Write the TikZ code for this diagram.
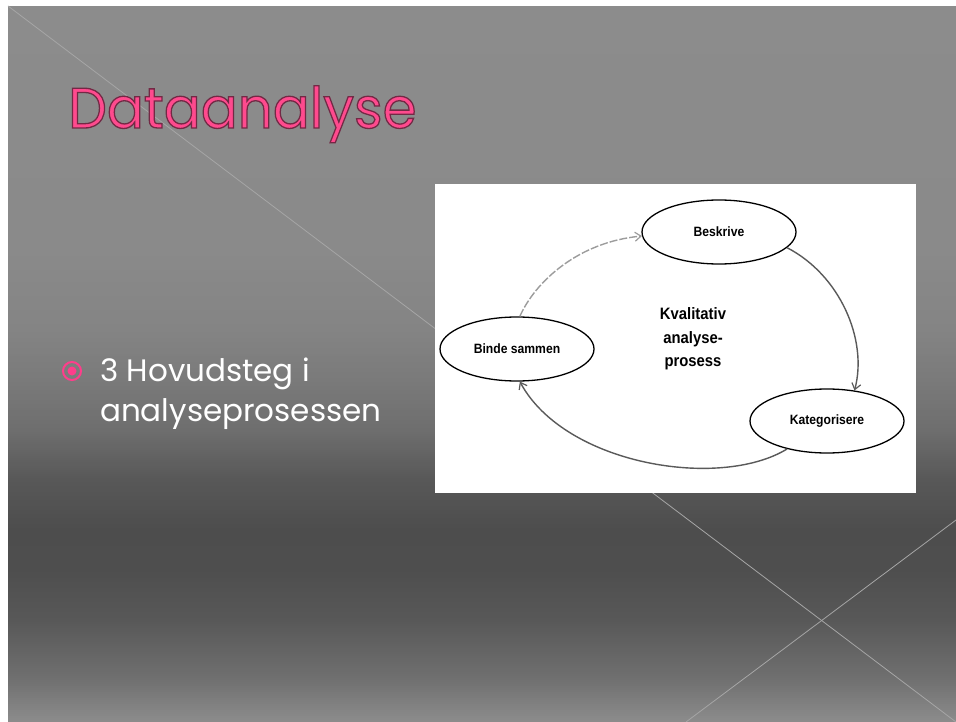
\documentclass[tikz,border=0pt]{standalone}
\usepackage{fontspec}
\setmainfont{Poppins}
\newfontfamily\diagfont{Liberation Sans}[FakeStretch=0.9]
\usetikzlibrary{shapes.geometric,arrows.meta}

\definecolor{titlepink}{HTML}{FF4A8E}
\definecolor{bulletpink}{HTML}{FF3D8B}
\definecolor{streak}{HTML}{A6A6A6}
\definecolor{flow}{HTML}{5A5A5A}
\definecolor{flowlight}{HTML}{9C9C9C}

% fill the glyphs and stroke their outlines in a dark rose
\newcommand{\outlinedtext}[1]{%
  \special{pdf:code 2 Tr 1.3 w 0.45 0.16 0.27 RG}#1\special{pdf:code 0 Tr 0.4 w}}

\begin{document}
\begin{tikzpicture}[x=1pt,y=-1pt,
  stage/.style={ellipse,draw=black,line width=1.3pt,fill=white,
    minimum width=154pt,minimum height=64pt,inner sep=0pt,
    font=\diagfont\bfseries\fontsize{13.5}{15}\selectfont},
  cycle/.style={draw=flow,line width=1.4pt,
    -{Straight Barb[length=6pt,width=9pt,line width=1.2pt]}},
  streakline/.style={draw=streak,line width=0.8pt}]
\useasboundingbox (0,0) rectangle (956,722);
\fill[white] (0,0) rectangle (956,722);

% slide background: vertical grey gradient built from thin strips
\foreach \ya/\yb/\ga/\gb in {6/250/140/138, 250/330/138/132, 330/380/132/122,
    380/430/122/110, 430/480/110/88, 480/530/88/77, 530/570/77/78,
    570/620/78/88, 620/680/88/112, 680/722/112/140}{
  \pgfmathtruncatemacro{\nstrip}{(\yb-\ya)/2}
  \foreach \k in {1,...,\nstrip}{
    \pgfmathsetmacro{\sy}{\ya+(\k-1)*2}
    \pgfmathsetmacro{\gv}{(\ga+(\gb-\ga)*(\k-0.5)/\nstrip)/2.55}
    \fill[white!\gv!black] (8,\sy) rectangle (956,\sy+2.6);
  }
}

% decorative diagonal streaks
\coordinate (s1a) at (8,6);
\coordinate (s1b) at (956,722);
\coordinate (s2a) at (956,520);
\coordinate (s2b) at (686,722);
\draw[streakline] (s1a) -- (s1b);
\draw[streakline] (s2a) -- (s2b);

% title
\node[anchor=base west,inner sep=0pt,text=titlepink,
      font=\fontsize{57}{60}\selectfont,xscale=0.96] (title) at (68,128)
  {\outlinedtext{Dataanalyse}};

% bullet point
\node[circle,draw=bulletpink,line width=2pt,minimum size=18pt,inner sep=0pt]
  (bullet) at (72,371) {};
\fill[bulletpink] (bullet.center) circle (4.5pt);
\node[anchor=base west,inner sep=0pt,text=white,align=left,
      font=\fontsize{31}{40}\selectfont] (point) at (100,421)
  {3 Hovudsteg i\\analyseprosessen};

% picture panel
\fill[white] (435,184) rectangle (916,493);

% analysis cycle
\node[stage] (beskrive) at (719,232) {Beskrive};
\node[stage] (binde) at (517,349) {Binde sammen};
\node[stage] (kat) at (827,421) {Kategorisere};
\node[font=\diagfont\bfseries\fontsize{16.5}{23.5}\selectfont,align=center]
  (core) at (693,339) {Kvalitativ\\analyse-\\prosess};

\draw[cycle,draw=flowlight,dash pattern=on 8pt off 2pt]
  (binde.85) .. controls (535,282) and (578,242) .. (beskrive.183);
\draw[cycle] (beskrive.-13) .. controls (840,275) and (868,340) .. (kat.48);
\draw[cycle] (kat.215) .. controls (720,490) and (565,465) .. (binde.-85);
\end{tikzpicture}
\end{document}
